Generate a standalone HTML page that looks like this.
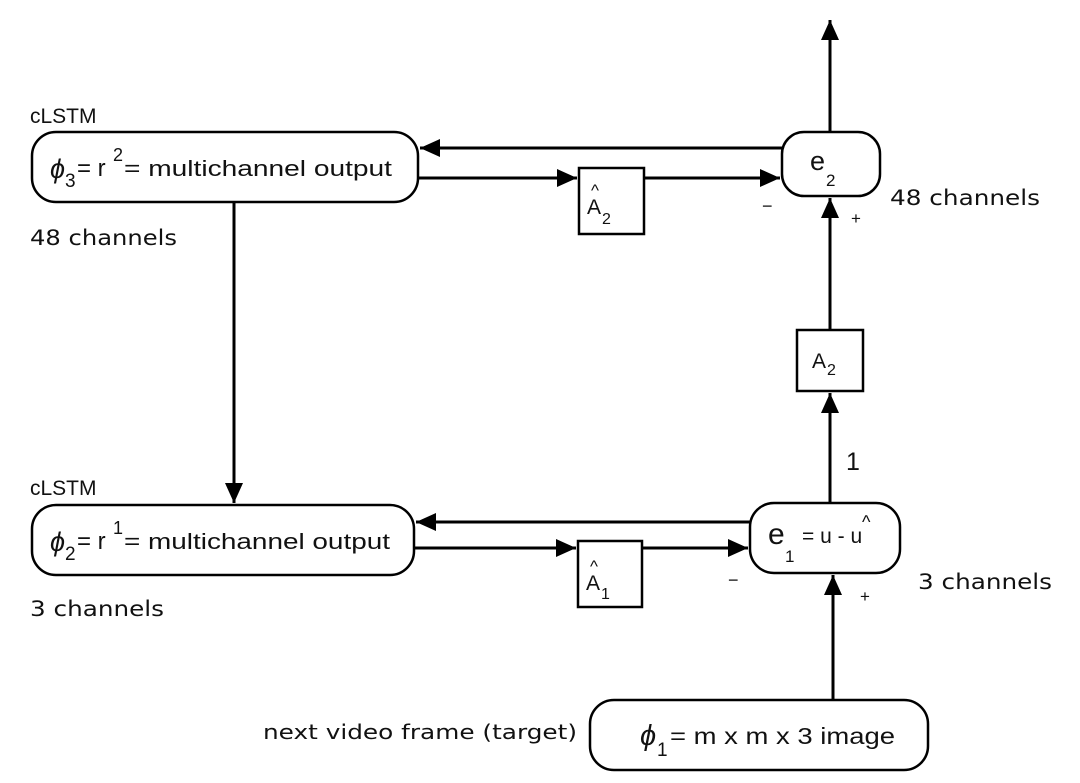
<!DOCTYPE html>
<html><head><meta charset="utf-8"><style>
html,body{margin:0;padding:0;background:#fff;}
svg{display:block;}
text{font-family:"Liberation Sans",sans-serif;fill:#111;}
.d{font-family:"DejaVu Sans",sans-serif;}
.b{fill:#fff;stroke:#000;stroke-width:2.5;}
.l{stroke:#000;stroke-width:3;fill:none;}
</style></head><body>
<svg width="1080" height="783" viewBox="0 0 1080 783">
<defs>
<marker id="h" viewBox="0 0 10 10" refX="10" refY="5" markerWidth="24" markerHeight="20" markerUnits="userSpaceOnUse" orient="auto"><path d="M0,0.5L10,5L0,9.5z" fill="#000"/></marker></defs>

<rect class="b" x="32" y="132" width="386" height="70" rx="24"/>
<rect class="b" x="782" y="132" width="98" height="64" rx="22"/>
<rect class="b" x="579" y="168" width="65" height="66"/>
<rect class="b" x="797" y="330" width="66" height="61"/>
<rect class="b" x="32" y="505" width="382" height="70" rx="24"/>
<rect class="b" x="750" y="503" width="150" height="70" rx="24"/>
<rect class="b" x="578" y="541" width="64" height="66"/>
<rect class="b" x="590" y="700" width="338" height="70" rx="24"/>

<line class="l" x1="782" y1="148" x2="420" y2="148" marker-end="url(#h)"/>
<line class="l" x1="418" y1="178" x2="577" y2="178" marker-end="url(#h)"/>
<line class="l" x1="644" y1="178" x2="780" y2="178" marker-end="url(#h)"/>
<line class="l" x1="830" y1="132" x2="830" y2="20" marker-end="url(#h)"/>
<line class="l" x1="830" y1="330" x2="830" y2="198" marker-end="url(#h)"/>
<line class="l" x1="830" y1="503" x2="830" y2="393" marker-end="url(#h)"/>
<line class="l" x1="234" y1="203" x2="234" y2="503" marker-end="url(#h)"/>
<line class="l" x1="750" y1="522" x2="416" y2="522" marker-end="url(#h)"/>
<line class="l" x1="414" y1="548" x2="576" y2="548" marker-end="url(#h)"/>
<line class="l" x1="642" y1="548" x2="748" y2="548" marker-end="url(#h)"/>
<line class="l" x1="833" y1="700" x2="833" y2="575" marker-end="url(#h)"/>

<text x="50" y="178" font-size="27" font-family="Liberation Serif" font-style="italic">ϕ</text>
<text x="65" y="187" font-size="19">3</text>
<text x="77" y="176" font-size="24">= r</text>
<text x="113" y="161" font-size="18">2</text>
<text x="124" y="176" font-size="22" textLength="268" lengthAdjust="spacingAndGlyphs">= multichannel output</text>

<text x="50" y="551" font-size="27" font-family="Liberation Serif" font-style="italic">ϕ</text>
<text x="65" y="560" font-size="19">2</text>
<text x="77" y="549" font-size="24">= r</text>
<text x="113" y="534" font-size="18">1</text>
<text x="124" y="549" font-size="22" textLength="266" lengthAdjust="spacingAndGlyphs">= multichannel output</text>

<text x="810" y="170" font-size="27">e</text>
<text x="826" y="186" font-size="17">2</text>

<text x="587" y="214" font-size="21">A</text>
<text x="591" y="196" font-size="17">^</text>
<text x="602" y="224" font-size="16">2</text>

<text x="812" y="368" font-size="21">A</text>
<text x="827" y="375" font-size="16">2</text>

<text x="586" y="590" font-size="21">A</text>
<text x="590" y="572" font-size="17">^</text>
<text x="601" y="599" font-size="16">1</text>

<text x="768" y="544" font-size="30">e</text>
<text x="785" y="562" font-size="17">1</text>
<text x="802" y="543" font-size="21">= u - u</text>
<text x="862" y="528" font-size="18">^</text>

<text x="640" y="745" font-size="29" font-family="Liberation Serif" font-style="italic">ϕ</text>
<text x="657" y="756" font-size="19">1</text>
<text x="670" y="744" font-size="23" textLength="225" lengthAdjust="spacingAndGlyphs">= m x m x 3 image</text>

<text x="30" y="123" font-size="21">cLSTM</text>
<text class="d" x="30" y="245" font-size="21" textLength="147" lengthAdjust="spacingAndGlyphs">48 channels</text>
<text x="30" y="495" font-size="21">cLSTM</text>
<text class="d" x="30" y="616" font-size="21" textLength="134" lengthAdjust="spacingAndGlyphs">3 channels</text>
<text class="d" x="890" y="205" font-size="21" textLength="150" lengthAdjust="spacingAndGlyphs">48 channels</text>
<text class="d" x="918" y="589" font-size="21" textLength="134" lengthAdjust="spacingAndGlyphs">3 channels</text>
<text class="d" x="263" y="739" font-size="20" textLength="314" lengthAdjust="spacingAndGlyphs">next video frame (target)</text>
<text x="846" y="470" font-size="25">1</text>
<text x="762" y="212" font-size="18">−</text>
<text x="728" y="586" font-size="18">−</text>
<text x="851" y="224" font-size="17">+</text>
<text x="860" y="602" font-size="17">+</text>
</svg>
</body></html>
